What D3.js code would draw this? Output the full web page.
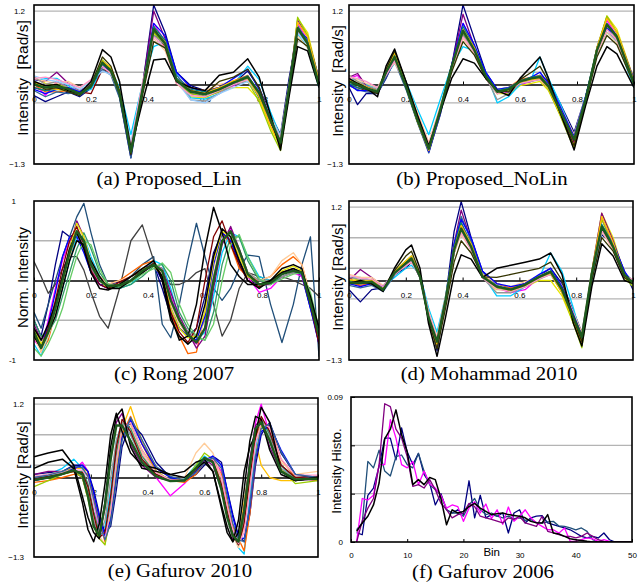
<!DOCTYPE html>
<html>
<head>
<meta charset="utf-8">
<script src="https://cdn.jsdelivr.net/npm/d3@7"></script>
<style>
body { margin: 0; background: #fff; }
svg { display: block; }
</style>
</head>
<body>
<script>
// sample times (normalised gait cycle) for each panel
const timeA = [0,0.04,0.08,0.12,0.16,0.2,0.24,0.27,0.3,0.34,0.38,0.42,0.46,0.5,0.55,0.6,0.65,0.7,0.75,0.79,0.83,0.865,0.895,0.925,0.96,1];
const timeB = [0,0.03,0.06,0.1,0.13,0.16,0.2,0.24,0.28,0.32,0.36,0.4,0.44,0.48,0.52,0.56,0.6,0.64,0.67,0.7,0.74,0.79,0.83,0.87,0.905,0.94,1];
const timeC = [0,0.025,0.05,0.075,0.1,0.125,0.15,0.175,0.2,0.23,0.26,0.3,0.34,0.38,0.42,0.45,0.48,0.51,0.54,0.57,0.6,0.63,0.66,0.69,0.72,0.75,0.79,0.83,0.87,0.91,0.94,0.97,1];
const timeD = [0,0.04,0.08,0.12,0.16,0.2,0.22,0.25,0.28,0.31,0.34,0.37,0.395,0.43,0.47,0.52,0.57,0.62,0.67,0.71,0.75,0.79,0.82,0.855,0.89,0.93,0.97,1];
const timeE = [0,0.05,0.1,0.14,0.17,0.19,0.21,0.23,0.25,0.27,0.29,0.31,0.34,0.38,0.43,0.48,0.53,0.57,0.6,0.63,0.66,0.68,0.7,0.72,0.74,0.76,0.78,0.8,0.83,0.87,0.92,1];
const binsF = [1,2,3,4,5,6,7,8,9,10,11,12,13,14,15,16,17,18,19,20,21,22,23,24,25,26,27,28,29,30,31,32,33,34,35,36,37,38,39,40,41,42,43,44,45,46,47,48,49,50];

// (a) Proposed_Lin [Rad/s]
const curvesA = [
  [-0.18,-0.28,-0.2,-0.12,-0.2,-0.06,0.28,0.2,-0.2,-1.2,-0.05,1.3,0.85,0.2,-0.02,-0.1,-0.05,0.02,0.22,-0.05,-0.5,-0.82,0.1,0.85,0.72,0.08],
  [0.02,-0.18,0.05,-0.05,-0.12,-0.02,0.32,0.2,-0.18,-1.15,-0.08,1.0,0.7,0.02,-0.15,-0.2,-0.12,-0.02,0.1,-0.18,-0.62,-0.98,-0.02,1.0,0.72,0.02],
  [0.12,0.02,-0.05,-0.08,-0.12,0.0,0.3,0.18,-0.1,-1.05,-0.15,0.85,0.62,0.02,-0.2,-0.22,-0.1,-0.05,-0.05,-0.25,-0.7,-1.02,-0.1,1.08,0.85,0.08],
  [0.05,0.1,0.1,-0.02,-0.12,-0.08,0.25,0.25,-0.05,-0.82,0.0,0.62,0.7,0.18,-0.22,-0.24,-0.15,0.0,0.3,0.08,-0.45,-0.85,-0.05,0.82,0.6,-0.05],
  [0.08,0.05,0.2,0.02,-0.1,0.0,0.35,0.22,-0.12,-1.15,-0.05,1.2,0.75,0.05,-0.1,-0.15,-0.05,0.05,0.12,-0.12,-0.62,-0.95,0.0,1.05,0.78,0.1],
  [-0.05,-0.1,-0.05,-0.1,-0.12,-0.15,0.25,0.2,-0.18,-1.12,-0.08,0.95,0.6,0.05,-0.1,-0.15,-0.1,0.0,0.1,-0.18,-0.6,-0.97,-0.08,0.95,0.65,0.0],
  [0.0,-0.12,-0.12,-0.1,-0.12,0.0,0.3,0.25,-0.1,-1.0,-0.05,0.85,0.7,0.1,-0.05,-0.1,-0.05,0.06,0.15,-0.15,-0.6,-0.95,0.0,0.9,0.7,0.05],
  [-0.1,-0.2,-0.12,-0.15,-0.12,0.0,0.25,0.15,-0.22,-1.2,-0.15,0.8,0.72,0.15,-0.1,-0.2,-0.1,0.0,0.1,-0.22,-0.55,-0.9,-0.08,0.85,0.75,0.1],
  [0.02,-0.02,0.0,-0.05,-0.15,-0.02,0.4,0.25,-0.12,-1.05,-0.1,0.85,0.65,0.05,-0.15,-0.2,-0.12,0.05,0.05,-0.28,-0.75,-1.08,-0.12,1.1,0.8,0.05],
  [0.1,0.05,0.02,0.05,-0.05,0.05,0.28,0.2,-0.1,-1.0,-0.02,0.75,0.55,0.05,-0.1,-0.1,0.0,0.05,0.1,-0.08,-0.52,-0.85,0.0,0.8,0.6,0.0],
  [0.12,0.0,0.05,-0.05,-0.1,0.0,0.3,0.2,-0.12,-1.05,-0.08,0.8,0.65,0.1,-0.25,-0.27,-0.15,0.0,0.05,-0.18,-0.6,-0.9,-0.05,0.95,0.7,0.0],
  [-0.08,-0.15,-0.08,-0.05,-0.12,0.0,0.3,0.22,-0.16,-1.15,-0.1,1.0,0.8,0.2,-0.05,-0.12,-0.05,0.1,0.25,-0.08,-0.55,-0.9,0.0,0.9,0.75,0.05],
  [0.14,0.08,0.05,0.0,-0.08,0.05,0.22,0.16,-0.08,-0.95,0.0,0.7,0.6,0.05,-0.25,-0.3,-0.15,-0.05,0.05,-0.15,-0.55,-0.85,-0.05,0.85,0.65,0.0],
  [-0.05,-0.1,-0.08,-0.1,-0.18,-0.05,0.32,0.25,-0.12,-1.08,-0.05,0.95,0.72,0.1,-0.08,-0.12,-0.06,0.04,0.14,-0.12,-0.55,-0.92,0.02,0.95,0.7,0.02],
  [0.1,0.12,0.08,0.02,-0.05,0.08,0.3,0.18,-0.15,-1.0,0.02,0.78,0.6,0.02,-0.18,-0.2,-0.1,0.0,0.08,-0.15,-0.6,-0.88,0.0,0.88,0.68,0.05],
  [0.05,-0.05,-0.08,-0.1,-0.15,0.0,0.38,0.28,-0.1,-1.12,-0.12,0.88,0.7,0.08,-0.1,-0.14,-0.05,0.06,0.1,-0.2,-0.68,-1.0,-0.08,1.02,0.78,0.06],
  [0.02,-0.08,-0.05,-0.12,-0.18,0.0,0.45,0.3,-0.1,-1.15,-0.2,0.7,0.6,0.05,-0.1,-0.15,0.05,0.12,0.25,-0.05,-0.6,-1.0,-0.15,0.75,0.62,0.0],
  [0.05,-0.02,0.0,-0.1,-0.15,0.05,0.57,0.45,0.05,-1.05,-0.3,0.4,0.42,0.05,-0.05,-0.1,0.15,0.2,0.42,0.12,-0.5,-1.07,-0.2,0.62,0.55,-0.05],
  [0.0,-0.05,-0.03,-0.07,-0.15,-0.03,0.36,0.22,-0.15,-1.1,-0.1,0.9,0.67,0.07,-0.12,-0.16,-0.08,0.03,0.12,-0.14,-0.58,-0.95,-0.05,0.92,0.67,0.0]
];

// (b) Proposed_NoLin [Rad/s]
const curvesB = [
  [-0.05,-0.33,-0.15,-0.15,0.1,0.4,0.0,-0.5,-1.1,-0.5,0.3,1.3,0.75,0.2,-0.08,-0.05,0.02,0.05,0.15,0.05,-0.3,-0.78,-0.2,0.5,0.85,0.72,0.05],
  [0.1,0.15,-0.05,-0.15,0.18,0.4,-0.05,-0.6,-1.1,-0.45,0.3,1.0,0.6,0.1,-0.15,-0.12,0.0,0.05,0.1,-0.05,-0.45,-0.95,-0.28,0.6,1.05,0.8,0.0],
  [0.15,0.05,-0.02,-0.1,0.15,0.5,0.0,-0.55,-1.0,-0.38,0.25,0.82,0.55,0.1,-0.15,-0.15,-0.02,0.02,0.05,-0.1,-0.48,-1.02,-0.3,0.55,1.12,0.9,0.08],
  [0.05,0.1,0.0,-0.05,0.15,0.35,0.05,-0.4,-0.82,-0.25,0.3,0.62,0.55,0.2,-0.3,-0.2,0.0,0.1,0.45,0.1,-0.3,-0.85,-0.2,0.5,0.85,0.7,-0.05],
  [0.12,0.18,-0.02,-0.1,0.22,0.5,0.0,-0.6,-1.1,-0.45,0.3,1.15,0.62,0.12,-0.1,-0.08,0.05,0.1,0.12,-0.02,-0.45,-0.95,-0.3,0.6,1.1,0.85,0.08],
  [0.0,-0.05,-0.1,-0.12,0.15,0.42,-0.05,-0.6,-1.08,-0.45,0.25,0.9,0.55,0.1,-0.12,-0.1,0.05,0.1,0.12,-0.05,-0.42,-0.92,-0.25,0.55,0.98,0.75,0.0],
  [0.08,0.02,-0.08,-0.1,0.2,0.45,0.0,-0.55,-1.02,-0.4,0.3,0.85,0.58,0.15,-0.1,-0.05,0.08,0.12,0.15,0.0,-0.4,-0.88,-0.22,0.58,0.95,0.75,0.05],
  [-0.02,-0.08,-0.12,-0.15,0.12,0.38,-0.08,-0.62,-1.12,-0.48,0.22,0.82,0.6,0.18,-0.1,-0.12,0.02,0.08,0.1,-0.05,-0.4,-0.88,-0.22,0.55,0.9,0.78,0.08],
  [0.05,0.0,-0.05,-0.1,0.25,0.5,-0.02,-0.6,-1.05,-0.4,0.3,0.85,0.55,0.1,-0.15,-0.1,0.05,0.1,0.1,-0.08,-0.5,-1.05,-0.3,0.6,1.12,0.85,0.05],
  [0.12,0.08,0.02,-0.05,0.2,0.35,0.02,-0.45,-0.95,-0.35,0.25,0.75,0.5,0.12,-0.08,-0.05,0.05,0.08,0.1,0.0,-0.35,-0.82,-0.2,0.5,0.85,0.68,0.0],
  [0.15,0.05,-0.02,-0.08,0.2,0.4,0.0,-0.52,-1.0,-0.4,0.28,0.8,0.55,0.12,-0.25,-0.15,0.02,0.05,0.08,-0.05,-0.42,-0.88,-0.25,0.55,0.95,0.75,0.02],
  [0.0,-0.1,-0.1,-0.1,0.18,0.45,0.0,-0.55,-1.1,-0.45,0.32,1.0,0.65,0.2,-0.08,-0.05,0.05,0.12,0.2,0.02,-0.35,-0.85,-0.2,0.55,0.92,0.8,0.08],
  [0.02,-0.05,-0.08,-0.1,0.22,0.48,0.02,-0.55,-1.05,-0.4,0.3,0.95,0.6,0.15,-0.1,-0.06,0.06,0.12,0.14,-0.02,-0.4,-0.9,-0.22,0.6,1.0,0.8,0.04],
  [0.12,0.1,0.05,-0.05,0.15,0.38,0.0,-0.5,-0.98,-0.38,0.26,0.78,0.52,0.1,-0.15,-0.1,0.02,0.06,0.08,-0.06,-0.45,-0.88,-0.25,0.52,0.9,0.72,0.02],
  [0.08,0.02,-0.04,-0.12,0.22,0.52,0.0,-0.6,-1.08,-0.42,0.28,0.9,0.6,0.12,-0.12,-0.1,0.04,0.08,0.1,-0.06,-0.48,-1.0,-0.3,0.6,1.08,0.85,0.06],
  [0.05,-0.02,-0.08,-0.15,0.25,0.55,0.05,-0.52,-1.02,-0.45,0.2,0.7,0.48,0.1,-0.1,-0.12,0.08,0.2,0.3,0.05,-0.45,-1.0,-0.3,0.45,0.8,0.65,0.0],
  [0.1,0.02,-0.05,-0.2,0.3,0.58,0.05,-0.5,-1.0,-0.45,0.1,0.42,0.35,0.1,-0.1,-0.18,0.1,0.3,0.45,0.1,-0.45,-1.07,-0.35,0.3,0.62,0.5,-0.05],
  [0.05,0.0,-0.06,-0.12,0.2,0.45,-0.03,-0.58,-1.05,-0.42,0.29,0.88,0.56,0.13,-0.12,-0.08,0.05,0.1,0.12,-0.03,-0.42,-0.9,-0.25,0.56,0.98,0.78,0.02]
];

// (c) Rong 2007 normalised intensity
const curvesC = [
  [-0.5,-0.7,-0.3,0.2,0.62,0.55,0.6,0.4,0.1,-0.05,-0.05,-0.02,0.05,0.15,0.2,-0.1,-0.45,-0.6,-0.7,-0.6,-0.2,0.35,0.6,0.5,0.2,0.0,-0.05,0.0,0.1,0.12,0.05,-0.35,-0.75],
  [-0.4,-0.6,-0.3,0.0,0.3,0.55,0.8,0.97,0.6,0.2,-0.05,-0.08,0.05,0.2,0.3,-0.55,-0.72,-0.3,0.25,0.72,0.3,-0.1,-0.25,-0.1,0.15,0.32,0.3,-0.3,-0.78,-0.3,0.2,0.55,-0.96],
  [0.24,0.05,-0.16,-0.05,0.15,0.3,0.3,0.13,-0.15,-0.45,-0.6,-0.1,0.5,0.7,0.25,0.05,-0.05,-0.05,0.0,0.1,0.15,-0.3,-0.7,-0.5,-0.1,0.1,0.05,0.0,0.05,0.0,-0.05,-0.1,-0.2],
  [-0.6,-0.9,-0.75,-0.4,-0.05,0.3,0.55,0.5,0.2,0.05,-0.05,0.0,0.1,0.2,0.25,0.0,-0.4,-0.7,-0.92,-0.9,-0.4,0.3,0.6,0.45,0.15,0.05,0.0,0.05,0.2,0.3,0.2,-0.2,-0.65],
  [-0.75,-0.85,-0.5,-0.1,0.25,0.5,0.6,0.45,0.15,-0.05,-0.1,-0.05,0.0,0.1,0.2,0.15,-0.2,-0.5,-0.7,-0.8,-0.6,0.0,0.5,0.65,0.35,0.05,-0.15,-0.1,0.05,0.1,0.05,-0.3,-0.75],
  [-0.8,-0.95,-0.7,-0.4,-0.1,0.25,0.55,0.55,0.3,0.05,-0.1,-0.1,-0.05,0.1,0.25,0.2,-0.1,-0.5,-0.7,-0.75,-0.65,-0.2,0.35,0.6,0.55,0.3,0.05,0.0,0.1,0.15,0.1,-0.25,-0.7],
  [-0.55,-0.75,-0.6,-0.3,0.05,0.4,0.75,0.55,0.2,0.0,-0.08,-0.05,0.0,0.1,0.2,0.15,-0.15,-0.45,-0.65,-0.85,-0.7,-0.1,0.45,0.68,0.4,0.1,-0.05,-0.05,0.1,0.12,0.08,-0.3,-0.8],
  [-0.7,-0.9,-0.7,-0.4,-0.05,0.3,0.65,0.55,0.25,0.05,-0.05,0.0,0.05,0.15,0.2,0.1,-0.3,-0.55,-0.7,-0.75,-0.5,0.15,0.6,0.6,0.3,0.1,0.0,0.05,0.25,0.35,0.2,-0.2,-0.7],
  [-0.5,-0.7,-0.65,-0.5,-0.2,0.1,0.4,0.6,0.4,0.1,-0.05,-0.1,-0.05,0.05,0.18,0.2,0.0,-0.4,-0.6,-0.72,-0.75,-0.4,0.2,0.55,0.55,0.25,0.0,-0.05,0.05,0.1,0.1,-0.2,-0.65],
  [-0.6,-0.8,-0.6,-0.3,0.05,0.35,0.6,0.45,0.15,0.0,-0.05,-0.05,0.0,0.1,0.2,0.15,-0.25,-0.5,-0.65,-0.7,-0.5,0.05,0.5,0.6,0.35,0.1,0.0,0.0,0.05,0.1,0.1,-0.3,-0.7],
  [-0.65,-0.85,-0.55,-0.15,0.3,0.55,0.55,0.35,0.1,-0.05,-0.1,-0.05,0.05,0.15,0.2,0.0,-0.35,-0.6,-0.7,-0.75,-0.45,0.2,0.6,0.5,0.25,0.05,-0.05,0.0,0.1,0.12,0.08,-0.35,-0.8],
  [-0.6,-0.8,-0.65,-0.35,0.0,0.4,0.72,0.55,0.2,0.0,-0.1,-0.05,0.05,0.15,0.18,0.05,-0.35,-0.6,-0.72,-0.7,-0.4,0.25,0.62,0.55,0.3,0.05,-0.05,0.0,0.12,0.18,0.12,-0.25,-0.75],
  [-0.7,-0.85,-0.6,-0.25,0.15,0.5,0.68,0.45,0.12,-0.05,-0.1,-0.02,0.05,0.12,0.22,0.05,-0.4,-0.65,-0.78,-0.6,0.0,0.55,0.75,0.45,0.2,0.0,-0.08,-0.02,0.1,0.15,0.1,-0.3,-0.8],
  [-0.85,-0.95,-0.8,-0.6,-0.35,0.0,0.3,0.5,0.45,0.15,-0.05,-0.08,-0.02,0.08,0.15,0.22,0.1,-0.3,-0.55,-0.7,-0.75,-0.55,0.0,0.45,0.58,0.3,0.02,-0.05,0.02,0.08,0.1,-0.15,-0.6],
  [-0.7,-0.85,-0.65,-0.45,-0.1,0.25,0.5,0.45,0.25,0.05,-0.1,-0.1,0.0,0.1,0.2,0.05,-0.45,-0.75,-0.7,-0.3,0.4,0.92,0.6,0.2,0.05,-0.05,-0.05,0.0,0.1,0.15,0.1,-0.2,-0.6],
  [-0.6,-0.75,-0.55,-0.3,0.05,0.4,0.6,0.4,0.1,-0.1,-0.12,-0.05,0.05,0.15,0.25,0.0,-0.5,-0.7,-0.8,-0.7,-0.3,0.3,0.65,0.55,0.25,0.0,-0.1,0.0,0.15,0.2,0.15,-0.25,-0.6],
  [-0.65,-0.85,-0.65,-0.35,0.0,0.35,0.62,0.5,0.2,0.0,-0.07,-0.06,0.0,0.12,0.2,0.12,-0.25,-0.5,-0.68,-0.78,-0.6,0.0,0.5,0.62,0.38,0.08,-0.05,-0.03,0.08,0.12,0.1,-0.28,-0.7]
];

// (d) Mohammad 2010 [Rad/s]
const curvesD = [
  [-0.15,-0.35,-0.15,-0.12,0.1,0.2,0.3,0.1,-0.5,-1.15,-0.3,0.8,1.29,0.7,0.15,-0.05,-0.12,-0.05,0.08,0.2,-0.05,-0.5,-0.85,0.05,0.75,0.6,0.15,-0.15],
  [0.05,-0.1,0.0,-0.12,0.1,0.25,0.32,0.05,-0.6,-1.05,-0.35,0.55,0.95,0.6,0.05,-0.12,-0.2,-0.15,0.05,0.12,-0.2,-0.65,-0.98,0.1,1.0,0.6,0.05,-0.05],
  [0.05,0.0,0.02,-0.1,0.1,0.25,0.3,0.08,-0.55,-0.95,-0.3,0.45,0.8,0.55,0.05,-0.15,-0.15,-0.1,0.0,0.0,-0.25,-0.7,-1.0,0.15,1.1,0.7,0.1,0.0],
  [0.05,0.05,0.0,-0.1,0.05,0.2,0.25,0.1,-0.45,-0.85,-0.25,0.55,0.75,0.65,0.1,-0.25,-0.25,-0.1,0.05,0.45,0.15,-0.45,-0.95,0.0,0.8,0.55,0.1,-0.05],
  [0.0,0.18,0.05,-0.1,0.12,0.3,0.38,0.05,-0.6,-1.05,-0.35,0.6,1.15,0.65,0.05,-0.1,-0.15,-0.05,0.05,0.15,-0.15,-0.6,-0.95,0.15,1.1,0.65,0.12,-0.02],
  [-0.05,-0.05,-0.05,-0.15,0.1,0.25,0.35,0.05,-0.62,-1.02,-0.35,0.45,0.85,0.5,0.05,-0.1,-0.15,-0.08,0.05,0.12,-0.15,-0.62,-0.95,0.1,0.85,0.5,0.05,-0.05],
  [-0.02,-0.08,-0.05,-0.12,0.12,0.3,0.35,0.1,-0.55,-0.98,-0.3,0.55,0.9,0.6,0.1,-0.05,-0.12,-0.05,0.08,0.15,-0.12,-0.58,-1.0,0.1,0.9,0.6,0.1,-0.05],
  [-0.08,-0.12,-0.08,-0.18,0.08,0.25,0.32,0.05,-0.6,-1.02,-0.35,0.55,1.05,0.65,0.12,-0.08,-0.15,-0.08,0.05,0.12,-0.15,-0.55,-0.88,0.1,0.9,0.6,0.12,0.0],
  [0.0,0.0,0.0,-0.12,0.15,0.32,0.4,0.08,-0.6,-1.0,-0.3,0.5,0.85,0.55,0.05,-0.12,-0.18,-0.1,0.05,0.1,-0.2,-0.7,-1.1,0.1,1.0,0.55,0.05,-0.1],
  [0.1,0.05,0.05,-0.08,0.12,0.25,0.3,0.08,-0.5,-0.92,-0.25,0.45,0.75,0.5,0.1,-0.05,-0.1,-0.02,0.08,0.15,-0.08,-0.52,-0.85,0.15,0.8,0.5,0.1,0.0],
  [0.05,0.02,0.0,-0.1,0.1,0.25,0.32,0.08,-0.55,-0.98,-0.3,0.45,0.82,0.55,0.05,-0.2,-0.2,-0.1,0.02,0.1,-0.15,-0.6,-0.92,0.12,0.85,0.55,0.08,-0.02],
  [-0.05,-0.1,-0.05,-0.1,0.12,0.3,0.36,0.1,-0.55,-1.05,-0.3,0.6,1.0,0.7,0.15,-0.05,-0.1,-0.05,0.1,0.2,-0.1,-0.55,-0.9,0.1,0.85,0.62,0.15,-0.05],
  [-0.02,-0.05,-0.04,-0.14,0.14,0.3,0.38,0.08,-0.58,-1.02,-0.3,0.55,0.95,0.6,0.08,-0.1,-0.14,-0.06,0.07,0.16,-0.14,-0.6,-0.95,0.14,0.92,0.58,0.1,-0.02],
  [0.08,0.04,0.02,-0.1,0.1,0.24,0.3,0.06,-0.52,-0.95,-0.28,0.48,0.78,0.5,0.04,-0.14,-0.18,-0.1,0.03,0.1,-0.18,-0.62,-0.9,0.1,0.82,0.52,0.06,0.02],
  [0.02,-0.02,0.0,-0.14,0.14,0.32,0.4,0.1,-0.6,-1.05,-0.34,0.52,0.9,0.6,0.08,-0.1,-0.16,-0.08,0.06,0.12,-0.2,-0.66,-1.02,0.14,1.05,0.62,0.08,-0.06],
  [-0.04,-0.02,-0.06,-0.16,0.16,0.4,0.48,0.12,-0.65,-1.12,-0.45,0.3,0.65,0.45,0.06,0.05,0.1,0.15,0.2,0.3,0.0,-0.62,-1.0,0.0,0.7,0.48,0.05,-0.05],
  [-0.05,0.0,-0.05,-0.18,0.2,0.5,0.58,0.2,-0.7,-1.24,-0.6,0.1,0.42,0.35,0.05,0.2,0.25,0.3,0.35,0.45,0.1,-0.7,-1.07,-0.1,0.6,0.4,0.0,-0.05],
  [-0.04,-0.04,-0.02,-0.15,0.12,0.28,0.36,0.06,-0.6,-1.0,-0.32,0.5,0.85,0.55,0.06,-0.1,-0.15,-0.07,0.06,0.14,-0.15,-0.6,-0.92,0.12,0.88,0.55,0.09,-0.04]
];

// (e) Gafurov 2010 [Rad/s]
const curvesE = [
  [0.0,0.05,0.1,0.15,0.15,0.1,-0.3,-0.7,-1.0,-0.6,0.2,0.8,1.16,0.6,0.15,0.0,-0.05,0.1,0.3,0.3,0.0,-0.5,-0.9,-1.05,-0.4,0.2,0.6,0.2,0.0,-0.05,-0.05,0.0],
  [0.0,0.02,0.05,0.12,0.25,0.1,-0.4,-0.85,-1.0,-0.5,0.3,0.85,0.9,0.4,0.0,-0.3,-0.1,0.1,0.25,0.3,0.1,-0.5,-0.9,-1.1,-0.8,0.2,0.9,1.2,0.7,0.2,0.0,-0.05],
  [-0.05,0.05,0.15,0.3,0.15,-0.2,-0.6,-0.9,-0.8,-0.2,0.6,0.9,0.7,0.3,0.05,-0.05,-0.02,0.2,0.35,0.25,-0.1,-0.5,-0.85,-1.15,-1.25,-0.3,0.5,0.9,0.75,0.2,-0.05,0.0],
  [0.05,0.08,0.1,0.2,0.2,0.1,-0.2,-0.6,-0.9,-0.8,-0.2,0.5,0.9,0.7,0.25,0.0,-0.05,0.05,0.2,0.35,0.25,-0.2,-0.6,-0.95,-1.05,-0.6,0.2,0.7,0.9,0.4,0.05,0.0],
  [-0.08,-0.05,0.0,0.05,0.1,0.05,-0.3,-0.7,-1.05,-0.7,0.0,0.7,1.0,0.55,0.1,-0.05,-0.08,0.05,0.25,0.3,0.05,-0.4,-0.8,-1.0,-1.2,-0.6,0.3,0.85,0.85,0.3,0.0,-0.05],
  [0.05,0.1,0.1,0.1,0.0,-0.3,-0.75,-0.95,-0.5,0.3,0.9,1.05,0.55,0.2,0.0,-0.05,-0.05,0.15,0.3,0.2,-0.2,-0.6,-1.0,-1.05,-0.5,0.3,0.85,0.95,0.5,0.1,-0.05,-0.02],
  [0.0,0.05,0.1,0.12,0.05,-0.2,-0.6,-0.95,-1.1,-0.5,0.3,0.85,0.85,0.4,0.05,-0.05,0.0,0.4,0.56,0.4,0.0,-0.5,-0.95,-1.15,-0.8,-0.1,0.6,0.9,0.8,0.25,0.05,0.1],
  [-0.05,0.0,0.05,0.1,0.1,-0.1,-0.55,-0.9,-0.95,-0.4,0.4,0.9,0.8,0.35,0.05,-0.02,-0.05,0.15,0.3,0.25,-0.15,-0.6,-0.95,-1.1,-0.7,0.1,0.75,0.95,0.7,0.2,0.0,0.0],
  [-0.15,-0.05,0.05,0.1,0.0,-0.35,-0.8,-1.0,-1.1,-0.6,0.2,0.8,0.9,0.45,0.1,-0.05,-0.05,0.2,0.4,0.3,-0.1,-0.55,-0.95,-1.05,-0.55,0.2,0.7,0.85,0.6,0.15,-0.1,-0.05],
  [0.0,0.05,0.08,0.1,0.05,-0.25,-0.7,-0.95,-0.7,0.0,0.6,0.9,0.7,0.3,0.02,-0.05,-0.05,0.12,0.28,0.25,-0.1,-0.55,-0.95,-1.1,-0.65,0.15,0.75,0.9,0.65,0.15,-0.02,0.0],
  [-0.05,0.0,0.05,0.15,0.2,0.1,-0.25,-0.65,-0.95,-0.7,0.0,0.65,0.95,0.55,0.15,0.0,-0.05,0.1,0.28,0.35,0.2,-0.2,-0.65,-0.98,-1.0,-0.5,0.3,0.75,0.85,0.45,0.05,-0.02],
  [-0.02,0.02,0.06,0.1,0.08,-0.15,-0.6,-0.98,-0.9,-0.3,0.5,0.95,0.75,0.3,0.05,-0.04,-0.04,0.12,0.3,0.28,-0.12,-0.55,-0.92,-1.1,-0.75,0.0,0.65,1.0,0.75,0.2,0.0,0.02],
  [0.02,0.05,0.08,0.12,0.12,0.0,-0.4,-0.8,-1.0,-0.55,0.25,0.8,0.9,0.45,0.08,-0.04,-0.04,0.14,0.3,0.3,0.0,-0.45,-0.85,-1.08,-0.9,-0.2,0.55,0.88,0.82,0.3,0.04,0.04],
  [0.0,0.04,0.1,0.18,0.16,0.02,-0.35,-0.75,-1.02,-0.75,-0.05,0.6,0.98,0.62,0.18,0.02,-0.04,0.08,0.24,0.32,0.15,-0.3,-0.75,-1.02,-1.05,-0.45,0.35,0.8,0.88,0.42,0.05,0.0],
  [0.34,0.4,0.45,0.2,-0.3,-0.65,-0.9,-1.0,-0.4,0.5,1.0,1.12,0.5,0.15,0.1,0.05,0.1,0.25,0.3,0.1,-0.5,-0.9,-1.05,-0.7,0.1,0.5,0.7,1.15,0.9,0.1,-0.05,0.0],
  [0.15,0.25,0.3,0.15,-0.4,-0.85,-1.05,-0.75,-0.1,0.7,1.05,0.75,0.4,0.2,0.15,0.05,0.0,0.15,0.25,0.1,-0.45,-0.8,-1.05,-0.9,-0.2,0.6,1.0,0.95,0.45,0.05,-0.05,0.0],
  [-0.04,0.0,0.06,0.12,0.05,-0.3,-0.8,-0.95,-0.45,0.3,0.85,0.85,0.6,0.25,0.02,-0.06,-0.05,0.15,0.32,0.25,-0.2,-0.65,-0.95,-1.05,-0.55,0.2,0.8,0.9,0.6,0.1,-0.03,-0.02]
];

// (f) Gafurov 2006 histograms
const histNavy = [0.0058,0.0045,0.029,0.0335,0.047,0.0645,0.0645,0.051,0.0708,0.056,0.048,0.055,0.042,0.0366,0.023,0.03,0.02,0.018,0.02,0.017,0.038,0.015,0.029,0.015,0.017,0.016,0.018,0.0056,0.018,0.02,0.0118,0.015,0.016,0.0164,0.0118,0.0108,0.0097,0.0087,0.0076,0.0056,0.0035,0.0025,0.0035,0.0025,0.0056,0.0014,0,0,0,0];
const histSteel = [0.0076,0.0118,0.05,0.046,0.057,0.044,0.041,0.053,0.054,0.048,0.046,0.055,0.044,0.0356,0.0325,0.029,0.02,0.018,0.018,0.016,0.023,0.027,0.02,0.017,0.018,0.016,0.015,0.016,0.0145,0.015,0.0135,0.0139,0.012,0.0118,0.0125,0.0128,0.01,0.0097,0.0087,0.0076,0.0087,0.0066,0.0014,0,0,0,0,0,0,0];
const histMagenta = [0,0.027,0.026,0.029,0.048,0.048,0.076,0.0645,0.048,0.046,0.05,0.0356,0.044,0.036,0.0335,0.029,0.021,0.023,0.022,0.0128,0.021,0.025,0.018,0.0236,0.0145,0.02,0.011,0.0217,0.0128,0.016,0.02,0.015,0.0118,0.0097,0.0076,0.0076,0.0055,0.0087,0.0004,0.0004,0.0014,0.0025,0.0019,0.0004,0.0014,0.0004,0,0,0,0];
const histPurple = [0,0.013,0.021,0.027,0.048,0.0858,0.084,0.07,0.0645,0.053,0.0345,0.0356,0.0335,0.0387,0.0325,0.024,0.0201,0.015,0.017,0.018,0.024,0.022,0.016,0.015,0.014,0.013,0.0118,0.015,0.014,0.016,0.0118,0.0108,0.0097,0.016,0.0066,0.0056,0.0045,0.0035,0.0035,0.0025,0.0035,0.0056,0.0035,0.0014,0.0004,0,0,0,0,0];
const histBlack = [0.0066,0.0118,0.016,0.023,0.0366,0.064,0.07,0.082,0.0666,0.056,0.0356,0.0387,0.0356,0.04,0.0387,0.027,0.0107,0.02,0.018,0.019,0.022,0.024,0.021,0.019,0.017,0.0176,0.018,0.017,0.0165,0.016,0.015,0.0128,0.012,0.0118,0.017,0.0056,0.005,0.0035,0.002,0.0014,0.001,0.0004,0,0,0,0,0,0,0,0];

// tick labels
const radTicks = [-1.3, 1.2];
const normTicks = [-1, 1];
const timeTicks = [0, 0.2, 0.4, 0.6, 0.8, 1];
const binTicks = [0, 10, 20, 30, 40, 50];
const histTicks = [0, 0.03, 0.06, 0.09];

// line colours (Excel-like palette)
const NAVY = "#000080", MAGENTA = "#ff00ff", YELLOW = "#e6e600", CYAN = "#00ccff",
      PURPLE = "#800080", MAROON = "#800000", ORANGE = "#ff6600", STEEL = "#336699",
      LIME = "#99cc00", PEACH = "#ffcc99", GREY = "#969696", BLUE = "#0000ff",
      LIGHTBLUE = "#99ccff", BLACK = "#000000", GREEN = "#1e5a1e", TEAL = "#339966",
      DARKGREY = "#404040", DEEPBLUE = "#1f4e79", GOLD = "#ffc000", PINK = "#ff99cc",
      OLIVE = "#333300", SEA = "#008080", LIGHTGREEN = "#66cc66";

const colorsA = [NAVY, MAGENTA, YELLOW, CYAN, PURPLE, MAROON, ORANGE, STEEL, LIME, PEACH, GREY, BLUE, LIGHTBLUE, SEA, PINK, GOLD, OLIVE, BLACK, GREEN];
const colorsB = [NAVY, MAGENTA, YELLOW, CYAN, PURPLE, MAROON, ORANGE, STEEL, LIME, PEACH, GREY, BLUE, SEA, PINK, GOLD, OLIVE, BLACK, GREEN];
const colorsC = [NAVY, DEEPBLUE, DARKGREY, ORANGE, MAGENTA, CYAN, PURPLE, PEACH, TEAL, GREY, BLUE, YELLOW, MAROON, LIGHTGREEN, BLACK, BLACK, GREEN];
const colorsD = [NAVY, MAGENTA, YELLOW, CYAN, PURPLE, MAROON, ORANGE, STEEL, LIME, PEACH, GREY, BLUE, SEA, PINK, GOLD, OLIVE, BLACK, GREEN];
const colorsE = [GOLD, MAGENTA, CYAN, NAVY, ORANGE, PURPLE, PEACH, TEAL, LIME, GREY, BLUE, MAROON, PINK, STEEL, BLACK, BLACK, GREEN];
const colorsF = [NAVY, DEEPBLUE, MAGENTA, PURPLE, BLACK];

var svg = d3.select("body").append("svg")
    .attr("width", 639)
    .attr("height", 584);

var sansFont = "'Liberation Sans', Arial, sans-serif";
var serifFont = "'Liberation Serif', 'Times New Roman', serif";
var gridColor = "#b4b4b4";

function lineWidth(c) {
    if (c === GREEN) return 2.4;
    if (c === BLACK) return 1.5;
    return 1.3;
}

function tickFmt(d) {
    if (d === 0) return "0";
    if (d === 1) return "1";
    return d3.format(".1f")(d);
}

// draws one small-multiple panel
function drawPanel(p) {
    var x = d3.scaleLinear().domain(p.xDomain).range([p.left, p.left + p.width]);
    var y = d3.scaleLinear().domain(p.yDomain).range([p.top + p.height, p.top]);
    var g = svg.append("g");

    g.append("clipPath").attr("id", "clip-" + p.id)
        .append("rect")
        .attr("x", p.left).attr("y", p.top)
        .attr("width", p.width).attr("height", p.height);

    // horizontal grid
    g.selectAll(".grid")
        .data(p.grid)
        .enter()
        .append("line")
        .attr("x1", p.left).attr("x2", p.left + p.width)
        .attr("y1", d => y(d)).attr("y2", d => y(d))
        .attr("stroke", gridColor)
        .attr("stroke-width", 1.4);

    if (p.zeroAxis) {
        // time axis sits on the zero line
        var xAxis = d3.axisBottom(x).tickValues(timeTicks)
            .tickSizeInner(-3).tickSizeOuter(0).tickPadding(12)
            .tickFormat(tickFmt);
        var xa = g.append("g")
            .attr("transform", "translate(0," + y(0) + ")")
            .call(xAxis);
        xa.select(".domain").attr("stroke", "#000").attr("stroke-width", 1.6);
        xa.selectAll("text").attr("font-size", 8).attr("font-family", sansFont).attr("fill", "#000");
    } else {
        var bAxis = d3.axisBottom(x).tickValues(binTicks)
            .tickSizeInner(-3).tickSizeOuter(0).tickPadding(10.3);
        var ba = g.append("g")
            .attr("transform", "translate(0," + (p.top + p.height) + ")")
            .call(bAxis);
        ba.select(".domain").remove();
        ba.selectAll("text").attr("font-size", 8).attr("font-family", sansFont).attr("fill", "#000");
    }

    var yAxis = d3.axisLeft(y).tickValues(p.yTicks)
        .tickSizeInner(p.yTickInner).tickSizeOuter(0)
        .tickPadding(p.left - p.yLabelRight)
        .tickFormat(p.yFormat);
    var ya = g.append("g")
        .attr("transform", "translate(" + p.left + ",0)")
        .call(yAxis);
    ya.select(".domain").remove();
    ya.selectAll("text").attr("font-size", 8).attr("font-family", sansFont).attr("fill", "#000");

    // series lines
    var line = d3.line()
        .defined((d, i) => i < p.xs.length)
        .x((d, i) => x(p.xs[i]))
        .y(d => y(d));

    g.append("g")
        .attr("clip-path", "url(#clip-" + p.id + ")")
        .selectAll("path")
        .data(p.series)
        .enter()
        .append("path")
        .attr("d", d => line(d))
        .attr("fill", "none")
        .attr("stroke", (d, i) => p.colors[i])
        .attr("stroke-width", (d, i) => lineWidth(p.colors[i]))
        .attr("stroke-linejoin", "round");

    // frame
    g.append("rect")
        .attr("x", p.left).attr("y", p.top)
        .attr("width", p.width).attr("height", p.height)
        .attr("fill", "none")
        .attr("stroke", "#000")
        .attr("stroke-width", 1.6);

    // axis title
    g.append("text")
        .attr("transform", "translate(" + p.titleX + "," + p.titleY + ") rotate(-90)")
        .attr("text-anchor", "middle")
        .attr("font-family", sansFont)
        .attr("font-size", p.titleSize)
        .style("white-space", "pre")
        .text(p.title);

    // caption
    g.append("text")
        .attr("transform", "translate(" + p.capX + "," + p.capY + ") scale(1.095,1)")
        .attr("text-anchor", "middle")
        .attr("font-family", serifFont)
        .attr("font-size", 19)
        .text(p.caption);

    return {x: x, y: y, g: g};
}

var radGrid = [-1.3, -0.8, -0.3, 0.2, 0.7, 1.2];
var radFmt = d => d3.format(".1f")(d);

drawPanel({id: "a", xs: timeA, series: curvesA, colors: colorsA,
    left: 34, top: 5, width: 285, height: 159,
    xDomain: [0, 1], yDomain: [-1.3, 1.3], grid: radGrid, zeroAxis: true,
    yTicks: radTicks, yTickInner: 0, yLabelRight: 25, yFormat: radFmt,
    title: "Intensity\u00a0\u00a0[Rad/s]", titleX: 27.5, titleY: 78, titleSize: 15.5,
    caption: "(a) Proposed_Lin", capX: 169, capY: 184.5});

drawPanel({id: "b", xs: timeB, series: curvesB, colors: colorsB,
    left: 349, top: 5, width: 285, height: 159,
    xDomain: [0, 1], yDomain: [-1.3, 1.3], grid: radGrid, zeroAxis: true,
    yTicks: radTicks, yTickInner: 0, yLabelRight: 343, yFormat: radFmt,
    title: "Intensity\u00a0\u00a0[Rad/s]", titleX: 343, titleY: 81, titleSize: 15,
    caption: "(b) Proposed_NoLin", capX: 482, capY: 184.5});

drawPanel({id: "c", xs: timeC, series: curvesC, colors: colorsC,
    left: 34, top: 201, width: 285, height: 159,
    xDomain: [0, 1], yDomain: [-1, 1], grid: [-0.5, 0.5], zeroAxis: true,
    yTicks: normTicks, yTickInner: 0, yLabelRight: 16, yFormat: d => String(d),
    title: "Norm. Intensity", titleX: 27.5, titleY: 277.5, titleSize: 15,
    caption: "(c) Rong 2007", capX: 174, capY: 380});

drawPanel({id: "d", xs: timeD, series: curvesD, colors: colorsD,
    left: 349, top: 201, width: 284, height: 159,
    xDomain: [0, 1], yDomain: [-1.3, 1.3], grid: radGrid, zeroAxis: true,
    yTicks: radTicks, yTickInner: 0, yLabelRight: 342, yFormat: radFmt,
    title: "Intensity [Rad/s]", titleX: 342.5, titleY: 277, titleSize: 15,
    caption: "(d) Mohammad 2010", capX: 489, capY: 380});

drawPanel({id: "e", xs: timeE, series: curvesE, colors: colorsE,
    left: 34, top: 398, width: 284, height: 159,
    xDomain: [0, 1], yDomain: [-1.3, 1.3], grid: radGrid, zeroAxis: true,
    yTicks: radTicks, yTickInner: 0, yLabelRight: 24, yFormat: radFmt,
    title: "Intensity [Rad/s]", titleX: 27.5, titleY: 475, titleSize: 15,
    caption: "(e) Gafurov 2010", capX: 180, capY: 577});

var pf = drawPanel({id: "f", xs: binsF, series: [histNavy, histSteel, histMagenta, histPurple, histBlack], colors: colorsF,
    left: 351, top: 397, width: 281, height: 145,
    xDomain: [0, 50], yDomain: [0, 0.09], grid: [0.03, 0.06], zeroAxis: false,
    yTicks: histTicks, yTickInner: -4, yLabelRight: 343, yFormat: d => d === 0 ? "0" : (d === 0.09 ? "0.09" : ""),
    title: "Intensity Histo.", titleX: 341, titleY: 471, titleSize: 13,
    caption: "(f) Gafurov 2006", capX: 483, capY: 577.5});

pf.g.append("text")
    .attr("x", 491.7)
    .attr("y", 556)
    .attr("text-anchor", "middle")
    .attr("font-family", sansFont)
    .attr("font-size", 11.5)
    .text("Bin");
</script>
</body>
</html>
